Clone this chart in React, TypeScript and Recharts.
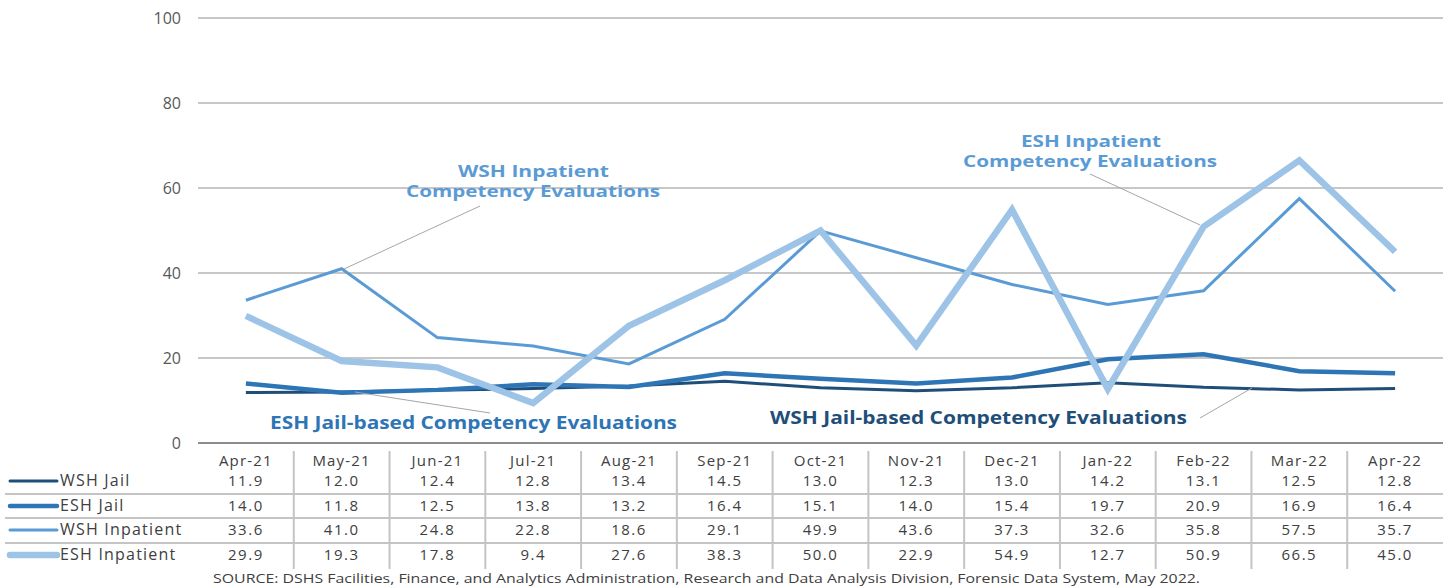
import { LineChart, Line, XAxis, YAxis, CartesianGrid } from 'recharts';

const MONTHS = ['Apr-21', 'May-21', 'Jun-21', 'Jul-21', 'Aug-21', 'Sep-21', 'Oct-21', 'Nov-21', 'Dec-21', 'Jan-22', 'Feb-22', 'Mar-22', 'Apr-22'];
const WSH_JAIL = [11.9, 12.0, 12.4, 12.8, 13.4, 14.5, 13.0, 12.3, 13.0, 14.2, 13.1, 12.5, 12.8];
const ESH_JAIL = [14.0, 11.8, 12.5, 13.8, 13.2, 16.4, 15.1, 14.0, 15.4, 19.7, 20.9, 16.9, 16.4];
const WSH_INPATIENT = [33.6, 41.0, 24.8, 22.8, 18.6, 29.1, 49.9, 43.6, 37.3, 32.6, 35.8, 57.5, 35.7];
const ESH_INPATIENT = [29.9, 19.3, 17.8, 9.4, 27.6, 38.3, 50.0, 22.9, 54.9, 12.7, 50.9, 66.5, 45.0];
const Y_TICKS = [0, 20, 40, 60, 80, 100];

const SERIES = [
    { key: 'wshJail', label: 'WSH Jail', values: WSH_JAIL, color: '#1f4e79', width: 3 },
    { key: 'eshJail', label: 'ESH Jail', values: ESH_JAIL, color: '#2e75b6', width: 4.5 },
    { key: 'wshInp', label: 'WSH Inpatient', values: WSH_INPATIENT, color: '#5b9bd5', width: 3 },
    { key: 'eshInp', label: 'ESH Inpatient', values: ESH_INPATIENT, color: '#9dc3e6', width: 6.5 },
];

const data = MONTHS.map((m, i) => {
    const row: Record<string, string | number> = { month: m };
    SERIES.forEach((s) => { row[s.key] = s.values[i]; });
    return row;
});

const FONT = '"Open Sans", sans-serif';
const BAND = 1245 / 13;
const ROW_Y = [486, 511, 535, 560];

// x axis tick doubles as one column of the data table
function TableTick(props: any) {
    const { x, payload, index } = props;
    return (
        <g>
            {index > 0 && (
                <line x1={x - BAND / 2} x2={x - BAND / 2} y1={451} y2={569} stroke="#c4c4c4" strokeWidth={2} />
            )}
            <text x={x} y={466} textAnchor="middle" fontFamily={FONT} fontSize={15} letterSpacing={1.2} fill="#404040">
                {payload.value}
            </text>
            {SERIES.map((s, r) => (
                <text key={s.key} x={x} y={ROW_Y[r]} textAnchor="middle" fontFamily={FONT} fontSize={15} letterSpacing={1.5} fill="#404040">
                    {s.values[index].toFixed(1)}
                </text>
            ))}
        </g>
    );
}

function Overlay() {
    const ann = { fontFamily: FONT, fontSize: 15.5, fontWeight: 700 } as const;
    return (
        <svg width={1450} height={588} style={{ position: 'absolute', left: 0, top: 0, pointerEvents: 'none' }}>
            {[494, 518, 543].map((y) => (
                <line key={y} x1={5} x2={1443} y1={y} y2={y} stroke="#c4c4c4" strokeWidth={2} />
            ))}
            {SERIES.map((s, r) => (
                <g key={s.key}>
                    <line x1={10} x2={57} y1={ROW_Y[r] - 5} y2={ROW_Y[r] - 5} stroke={s.color} strokeWidth={s.width} strokeLinecap="round" />
                    <text x={60} y={ROW_Y[r]} fontFamily={FONT} fontSize={16} letterSpacing={1.2} fill="#404040">{s.label}</text>
                </g>
            ))}
            <text x={213} y={583} fontFamily={FONT} fontSize={13} fill="#404040" textLength={987} lengthAdjust="spacingAndGlyphs">
                SOURCE: DSHS Facilities, Finance, and Analytics Administration, Research and Data Analysis Division, Forensic Data System, May 2022.
            </text>

            <line x1={344} y1={269} x2={480} y2={206} stroke="#a6a6a6" strokeWidth={1} />
            <line x1={1090} y1={174} x2={1200} y2={225} stroke="#a6a6a6" strokeWidth={1} />
            <line x1={355} y1={392} x2={490} y2={413} stroke="#a6a6a6" strokeWidth={1} />
            <line x1={1200} y1={418} x2={1252} y2={388} stroke="#a6a6a6" strokeWidth={1} />

            <text x={458} y={177} {...ann} fill="#5b9bd5" textLength={151} lengthAdjust="spacingAndGlyphs">WSH Inpatient</text>
            <text x={406} y={197} {...ann} fill="#5b9bd5" textLength={254} lengthAdjust="spacingAndGlyphs">Competency Evaluations</text>
            <text x={1021} y={147} {...ann} fill="#5b9bd5" textLength={140} lengthAdjust="spacingAndGlyphs">ESH Inpatient</text>
            <text x={963} y={167} {...ann} fill="#5b9bd5" textLength={254} lengthAdjust="spacingAndGlyphs">Competency Evaluations</text>
            <text x={270} y={429} fontFamily={FONT} fontSize={17.5} fontWeight={700} fill="#2e75b6" textLength={407} lengthAdjust="spacingAndGlyphs">ESH Jail-based Competency Evaluations</text>
            <text x={770} y={424} fontFamily={FONT} fontSize={17.5} fontWeight={700} fill="#1f4e79" textLength={417} lengthAdjust="spacingAndGlyphs">WSH Jail-based Competency Evaluations</text>
        </svg>
    );
}

export default function App() {
    return (
        <div style={{ position: 'absolute', left: 0, top: 0, width: 1450, height: 588, background: '#fff' }}>
            <LineChart width={1450} height={588} data={data} margin={{ top: 18, right: 7, bottom: 0, left: 0 }}>
                <CartesianGrid horizontal vertical={false} stroke="#b4b4b4" strokeWidth={1.5} />
                <XAxis
                    dataKey="month"
                    height={145}
                    padding={{ left: BAND / 2, right: BAND / 2 }}
                    axisLine={{ stroke: '#8c8c8c', strokeWidth: 2 }}
                    tickLine={false}
                    interval={0}
                    tick={<TableTick />}
                />
                <YAxis
                    width={198}
                    domain={[0, 100]}
                    ticks={Y_TICKS}
                    axisLine={false}
                    tickLine={false}
                    tickSize={0}
                    tickMargin={17}
                    tick={{ fill: '#595959', fontSize: 16, fontFamily: FONT }}
                />
                {SERIES.map((s) => (
                    <Line
                        key={s.key}
                        type="linear"
                        dataKey={s.key}
                        stroke={s.color}
                        strokeWidth={s.width}
                        dot={false}
                        isAnimationActive={false}
                    />
                ))}
            </LineChart>
            <Overlay />
        </div>
    );
}
